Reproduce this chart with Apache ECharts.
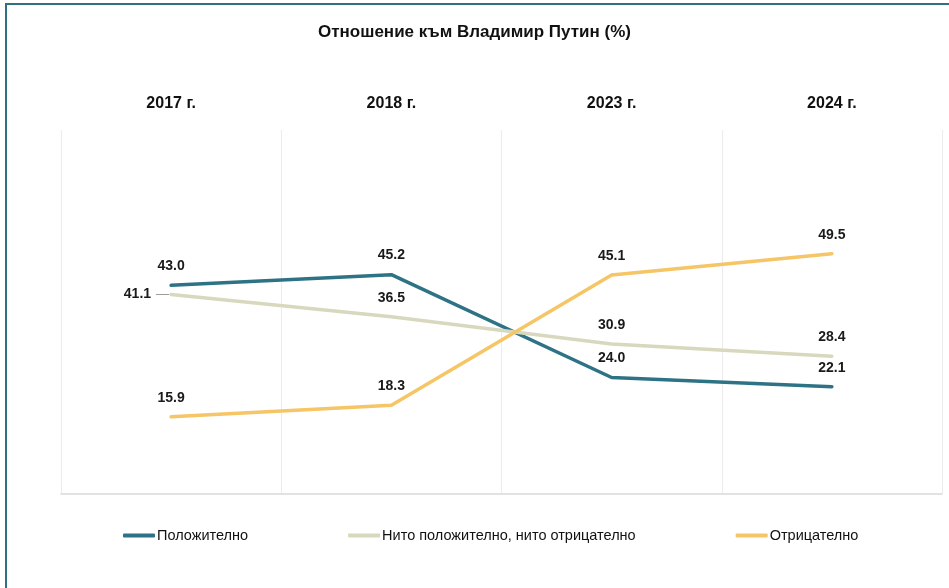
<!DOCTYPE html>
<html>
<head>
<meta charset="utf-8">
<script src="https://cdn.jsdelivr.net/npm/echarts@6/dist/echarts.min.js"></script>
<style>
  html, body { margin: 0; padding: 0; background: #fff; }
  #frame { position: absolute; left: 5px; top: 3px; width: 960px; height: 600px;
           border-left: 2px solid #2F7183; border-top: 2px solid #2F7183; }
  #chart { position: absolute; left: 0; top: 0; width: 949px; height: 588px; }
</style>
</head>
<body>
<div id="frame"></div>
<div id="chart"></div>
<script>
const titleText = 'Отношение към Владимир Путин (%)';
const categories = ['2017 г.', '2018 г.', '2023 г.', '2024 г.'];
const seriesNames = ['Положително', 'Нито положително, нито отрицателно', 'Отрицателно'];
const positiveValues = [43.0, 45.2, 24.0, 22.1];
const neutralValues = [41.1, 36.5, 30.9, 28.4];
const negativeValues = [15.9, 18.3, 45.1, 49.5];
const colors = ['#2E7385', '#D8D8BE', '#F5C566'];

const font = '"Liberation Sans", Arial, sans-serif';
const labelStyle = {
  show: true, position: 'top', distance: 12,
  fontFamily: font, fontSize: 14, fontWeight: 'bold', color: '#1a1a1a',
  formatter: p => Number(p.value).toFixed(1)
};

function makeSeries(name, data, color, leftFirst) {
  return {
    name, type: 'line', data: data.map((v, i) => {
      if (leftFirst && i === 0) {
        return { value: v, label: {
          position: 'left', distance: 2,
          formatter: p => '{v|' + Number(p.value).toFixed(1) + '}{g|}{l|}',
          rich: {
            v: { fontFamily: font, fontSize: 14, fontWeight: 'bold', color: '#1a1a1a' },
            g: { width: 5 },
            l: { width: 13, height: 1, backgroundColor: '#999' }
          }
        } };
      }
      return v;
    }),
    symbol: 'circle', symbolSize: 0.1, showSymbol: true,
    lineStyle: { color, width: 3.5, cap: 'round', join: 'round' },
    itemStyle: { color },
    label: labelStyle,
    emphasis: { disabled: true },
    z: 2
  };
}

const chart = echarts.init(document.getElementById('chart'), null, { renderer: 'canvas' });
chart.setOption({
  animation: false,
  backgroundColor: 'transparent',
  title: {
    text: titleText, left: 'center', top: 19,
    textStyle: { fontFamily: font, fontSize: 17, fontWeight: 'bold', color: '#111' }
  },
  grid: { left: 61, right: 7, top: 130, bottom: 94 },
  xAxis: [{
    type: 'category', data: categories, position: 'top', boundaryGap: true,
    axisLine: { show: false }, axisTick: { show: false },
    axisLabel: { margin: 18, fontFamily: font, fontSize: 16, fontWeight: 'bold', color: '#111' },
    splitLine: { show: true, lineStyle: { color: '#ececec', width: 1 } }
  }, {
    type: 'category', data: categories, position: 'bottom', boundaryGap: true,
    axisLine: { show: true, lineStyle: { color: '#d9d9d9', width: 1.5 } },
    axisTick: { show: false }, axisLabel: { show: false }, splitLine: { show: false }
  }],
  yAxis: {
    type: 'value', min: 0, max: 75, show: false, splitLine: { show: false }
  },
  legend: {
    data: seriesNames, left: 118, top: 523, icon: 'roundRect',
    itemWidth: 32, itemHeight: 4, itemGap: 100,
    textStyle: { fontFamily: font, fontSize: 14.5, color: '#111', padding: [0, 0, 0, -3] }
  },
  series: [
    makeSeries(seriesNames[0], positiveValues, colors[0], false),
    makeSeries(seriesNames[1], neutralValues, colors[1], true),
    makeSeries(seriesNames[2], negativeValues, colors[2], false)
  ]
});
</script>
</body>
</html>
